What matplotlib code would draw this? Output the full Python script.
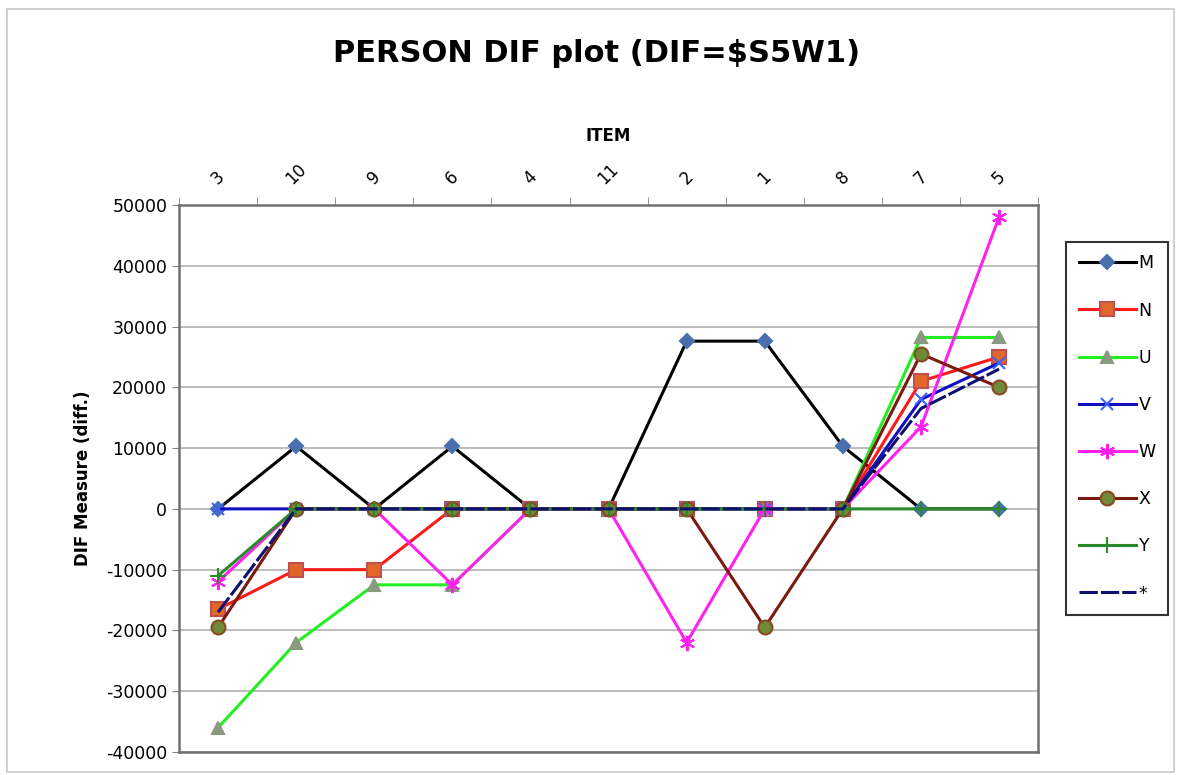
import numpy as np
from matplotlib import pyplot as plt
from matplotlib.patches import Rectangle

# items in display order
items = ['3', '10', '9', '6', '4', '11', '2', '1', '8', '7', '5']

# DIF measure per person class
M = [0, 10300, 0, 10300, 0, 0, 27600, 27600, 10300, 0, 0]
N = [-16500, -10000, -10000, 0, 0, 0, 0, 0, 0, 21000, 25000]
U = [-36000, -22000, -12500, -12500, 0, 0, 0, 0, 0, 28200, 28200]
V = [0, 0, 0, 0, 0, 0, 0, 0, 0, 18000, 24000]
W = [-12000, 0, 0, -12500, 0, 0, -22000, 0, 0, 13500, 48000]
X = [-19500, 0, 0, 0, 0, 0, 0, -19500, 0, 25500, 20000]
Y = [-11000, 0, 0, 0, 0, 0, 0, 0, 0, 0, 0]
STAR = [-17000, 0, 0, 0, 0, 0, 0, 0, 0, 16500, 23000]

yticks = np.arange(-40000, 50001, 10000)

fig = plt.figure(figsize=(11.81, 7.75), dpi=100)
ax = fig.add_axes([0.1516, 0.0297, 0.879 - 0.1516, 0.7355 - 0.0297])

x = np.arange(len(items))

# gridlines first
ax.set_axisbelow(True)
ax.yaxis.grid(True, color='#b0b0b0', lw=1.2)

# line style per series: (data, label, line colour, marker, marker face, marker edge, size)
series = [
    (M, 'M', 'black', 'D', '#4a6fae', '#4a6fae', 7),
    (N, 'N', '#ff1a1a', 's', '#e0662a', '#c0504d', 10),
    (U, 'U', '#22ee22', '^', '#8a9a80', '#8a9a80', 9),
    (V, 'V', '#1010c0', 'x', '#4060ff', '#4060ff', 9),
    (W, 'W', '#ff22ee', (6, 2, 0), '#ff22ee', '#ff22ee', 11),
    (X, 'X', '#7a1a10', 'o', '#6e8a38', '#8a4a20', 10),
    (Y, 'Y', '#2a8a2a', '+', '#2a8a2a', '#2a8a2a', 12),
    (STAR, '*', '#10106e', None, None, None, 0),
]

for data, label, col, mk, mfc, mec, ms in series:
    if mk is None:
        ax.plot(x, data, color=col, lw=2.2, dashes=(6, 1), label=label)
    else:
        ax.plot(x, data, color=col, lw=2.2, marker=mk, markerfacecolor=mfc,
                markeredgecolor=mec, markersize=ms, markeredgewidth=1.5, label=label)

ax.set_xlim(-0.5, len(items) - 0.5)
ax.set_ylim(-40000, 50000)
ax.set_yticks(yticks)
ax.set_yticklabels([str(v) for v in yticks], fontsize=12.5)

# category axis on top
ax.xaxis.tick_top()
ax.set_xticks(x)
ax.set_xticklabels(items, rotation=45, fontsize=12, ha='center', va='bottom')
ax.set_xticks(np.arange(-0.5, len(items), 1), minor=True)
ax.tick_params(axis='x', which='major', length=0, pad=12)
ax.tick_params(axis='x', which='minor', length=6, color='#808080', top=True, bottom=False)
ax.tick_params(axis='y', length=5, color='#808080', direction='out')
ax.xaxis.set_label_position('top')
ax.set_xlabel('ITEM', fontsize=12, fontweight='bold', labelpad=14)
ax.set_ylabel('DIF Measure (diff.)', fontsize=12, fontweight='bold', labelpad=10)

for sp in ax.spines.values():
    sp.set_color('#707070')
    sp.set_linewidth(1.8)

fig.suptitle('PERSON DIF plot (DIF=$S5W1)', x=0.505, y=0.95, fontsize=22, fontweight='bold')

leg = ax.legend(loc='upper left', bbox_to_anchor=(1.033, 0.932), fontsize=12.5,
                frameon=True, fancybox=False, labelspacing=1.68, handlelength=3.3,
                handletextpad=0.15, borderpad=0.7, borderaxespad=0)
leg.get_frame().set_edgecolor('black')
leg.get_frame().set_linewidth(1.5)

# outer chart border
fig.patches.append(Rectangle((0.006, 0.004), 0.988, 0.985, transform=fig.transFigure,
                             fill=False, edgecolor='#c8c8c8', lw=1.2))

fig.savefig('out.png', dpi=100)
